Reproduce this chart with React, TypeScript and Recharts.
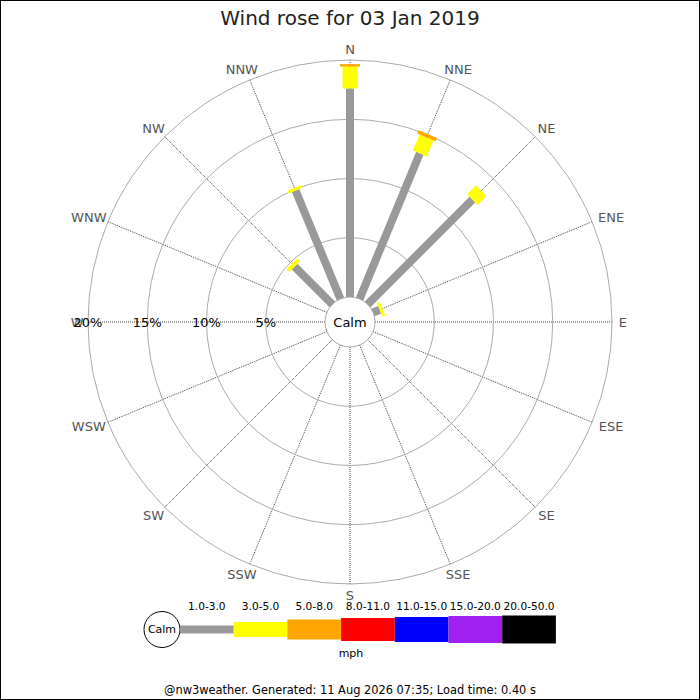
import React from "react";
import {
  RadarChart,
  Radar,
  PolarGrid,
  PolarAngleAxis,
  PolarRadiusAxis,
  Legend
} from "recharts";

const directions = [
  "N", "NNE", "NE", "ENE", "E", "ESE", "SE", "SSE",
  "S", "SSW", "SW", "WSW", "W", "WNW", "NW", "NNW"
];

const speedBands = [
  "1.0-3.0", "3.0-5.0", "5.0-8.0", "8.0-11.0",
  "11.0-15.0", "15.0-20.0", "20.0-50.0"
];

// % of the day in each speed band, per direction (order as in directions)
const band1to3 = [17.6, 13.3, 12.5, 0.6, 0, 0, 0, 0, 0, 0, 0, 0, 0, 0, 4.5, 9.9];
const band3to5 = [1.85, 1.45, 1.05, 0.25, 0, 0, 0, 0, 0, 0, 0, 0, 0, 0, 0.35, 0.25];
const band5to8 = [0.2, 0.3, 0, 0, 0, 0, 0, 0, 0, 0, 0, 0, 0, 0, 0, 0];
const band8to11 = [0, 0, 0, 0, 0, 0, 0, 0, 0, 0, 0, 0, 0, 0, 0, 0];
const band11to15 = [0, 0, 0, 0, 0, 0, 0, 0, 0, 0, 0, 0, 0, 0, 0, 0];
const band15to20 = [0, 0, 0, 0, 0, 0, 0, 0, 0, 0, 0, 0, 0, 0, 0, 0];
const band20to50 = [0, 0, 0, 0, 0, 0, 0, 0, 0, 0, 0, 0, 0, 0, 0, 0];

const radiusTicks = [0, 5, 10, 15, 20];

const bandSeries = [band1to3, band3to5, band5to8, band8to11, band11to15, band15to20, band20to50];

// styles
const bandColors = ["#999999", "#ffff00", "#ffa500", "#ff0000", "#0000ff", "#a020f0", "#000000"];
const bandWidths = [8, 15, 20, 23, 25, 27, 28];

// each band is stored as [start, end] so the radar gets a base line
const data = directions.map((dir, i) => {
  const row: any = { dir };
  let cum = 0;
  bandSeries.forEach((s, b) => {
    row[`b${b}`] = [cum, cum + s[i]];
    cum += s[i];
  });
  return row;
});

const barShape = (band: number) => (props: any) => {
  const points = props.points || [];
  const base = props.baseLinePoints || [];
  return (
    <g>
      {points.map((p: any, i: number) => {
        const b = base[i];
        if (!b || !Array.isArray(p.value) || !(p.value[1] > p.value[0])) return null;
        return (
          <line
            key={i}
            x1={b.x}
            y1={b.y}
            x2={p.x}
            y2={p.y}
            stroke={bandColors[band]}
            strokeWidth={bandWidths[band]}
          />
        );
      })}
    </g>
  );
};

const AngleTick = (props: any) => {
  const { x, y, payload } = props;
  const a = (payload.coordinate * Math.PI) / 180;
  const ux = Math.cos(a);
  const uy = -Math.sin(a);
  const half = String(payload.value).length * 4.9;
  return (
    <text
      x={x + ux * half}
      y={y + uy * 5}
      textAnchor="middle"
      dominantBaseline="central"
      fill="#555"
      fontSize={13}
    >
      {payload.value}
    </text>
  );
};

const RadiusTick = (props: any) => {
  const { x, y, payload, cx } = props;
  if (payload.value === 0) {
    return (
      <text x={cx ?? x + 25} y={y} textAnchor="middle" dominantBaseline="central" fill="#000" fontSize={13}>
        Calm
      </text>
    );
  }
  return (
    <text x={x} y={y} textAnchor="middle" dominantBaseline="central" fill="#000" fontSize={13}>
      {payload.value}%
    </text>
  );
};

const LegendContent = () => {
  const segW = 53.7;
  const x0 = 180;
  const mid = 39.5;
  return (
    <svg width={700} height={80} style={{ display: "block" }}>
      <circle cx={162} cy={mid} r={18} fill="#fff" stroke="#000" />
      <text x={162} y={mid} textAnchor="middle" dominantBaseline="central" fontSize={11}>
        Calm
      </text>
      {speedBands.map((label, b) => (
        <g key={label}>
          <rect
            x={x0 + b * segW}
            y={mid - bandWidths[b] / 2}
            width={segW}
            height={bandWidths[b]}
            fill={bandColors[b]}
          />
          <text x={x0 + b * segW + segW / 2} y={20} textAnchor="middle" fontSize={10.6}>
            {label}
          </text>
        </g>
      ))}
      <text x={351} y={67} textAnchor="middle" fontSize={11}>
        mph
      </text>
    </svg>
  );
};

const App = () => {
  return (
    <div
      style={{
        position: "absolute",
        left: 0,
        top: 0,
        width: 700,
        height: 700,
        background: "#fff",
        fontFamily: "'DejaVu Sans', sans-serif"
      }}
    >
      <RadarChart
        width={700}
        height={700}
        data={data}
        cx={350}
        cy={322}
        innerRadius={25}
        outerRadius={262}
        startAngle={90}
        endAngle={-270}
        margin={{ top: 0, right: 0, bottom: 0, left: 0 }}
      >
        <PolarGrid gridType="circle" polarRadius={[0]} stroke="#444" strokeDasharray="1 1" />
        <PolarGrid gridType="circle" radialLines={false} stroke="#aaa" />
        <PolarAngleAxis
          dataKey="dir"
          axisLine={false}
          tickLine={false}
          tickSize={6}
          tick={AngleTick}
        />
        <PolarRadiusAxis
          angle={180}
          type="number"
          domain={[0, 20]}
          ticks={radiusTicks}
          tickCount={5}
          axisLine={false}
          tickLine={false}
          tick={RadiusTick}
        />
        {speedBands.map((label, b) => (
          <Radar
            key={label}
            name={label}
            dataKey={`b${b}`}
            shape={barShape(b)}
            dot={false}
            legendType="none"
            isAnimationActive={false}
          />
        ))}
        <Legend
          content={LegendContent}
          wrapperStyle={{ left: 0, top: 590, width: 700, height: 80 }}
        />
      </RadarChart>
      <div
        style={{
          position: "absolute",
          left: 0,
          top: 1,
          width: 700,
          textAlign: "center",
          fontSize: 20,
          lineHeight: "34px",
          color: "#222"
        }}
      >
        Wind rose for 03 Jan 2019
      </div>
      <div
        style={{
          position: "absolute",
          left: 0,
          top: 684,
          width: 700,
          textAlign: "center",
          fontSize: 11.4,
          lineHeight: "13px",
          color: "#000"
        }}
      >
        @nw3weather. Generated: 11 Aug 2026 07:35; Load time: 0.40 s
      </div>
      <div
        style={{
          position: "absolute",
          left: 0,
          top: 0,
          width: 700,
          height: 700,
          boxSizing: "border-box",
          border: "1px solid #000",
          pointerEvents: "none"
        }}
      />
    </div>
  );
};

export default App;
